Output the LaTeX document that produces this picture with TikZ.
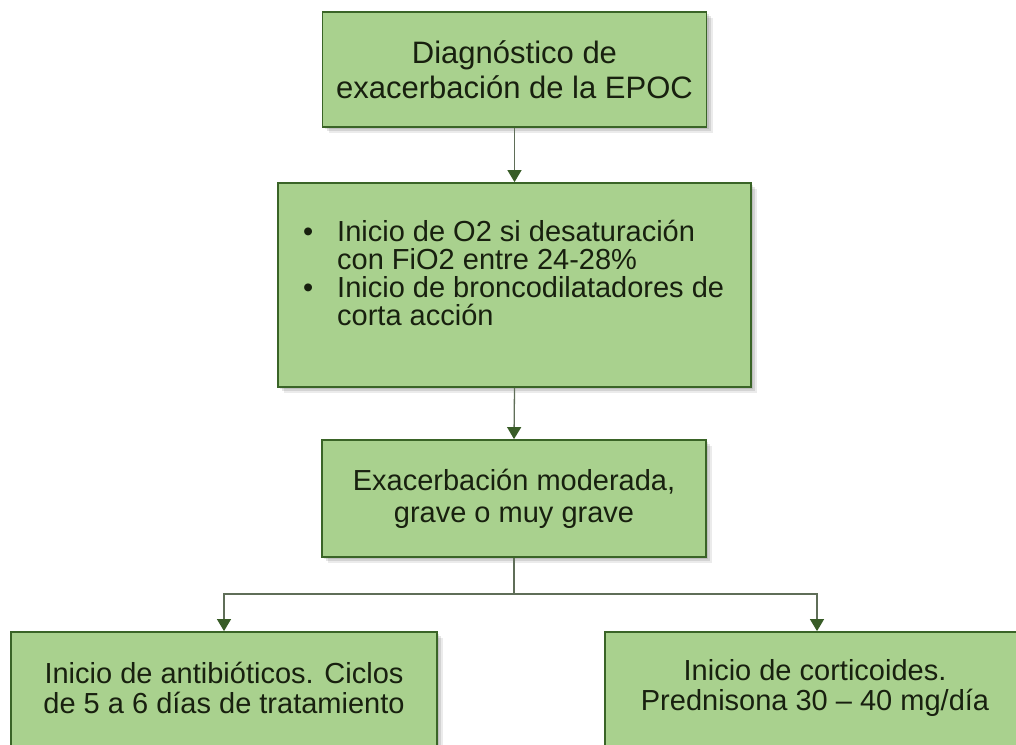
\documentclass[tikz,border=0pt]{standalone}
\usepackage{fontspec}
\setmainfont{Liberation Sans}
\usetikzlibrary{arrows.meta,shadows}
\definecolor{boxfill}{HTML}{A9D18E}
\definecolor{boxline}{HTML}{3A6427}
\definecolor{tipcol}{HTML}{385C27}
\definecolor{linecol}{HTML}{5F6E58}
\definecolor{txtcol}{HTML}{18200F}
\tikzset{
  greenbox/.style={draw=boxline, line width=1.8pt, fill=boxfill, inner sep=0pt,
    text=txtcol, align=center,
    general shadow={fill=black, opacity=0.10, shadow xshift=2pt, shadow yshift=-2pt},
    general shadow={fill=black, opacity=0.10, shadow xshift=4pt, shadow yshift=-4pt},
    general shadow={fill=black, opacity=0.08, shadow xshift=6pt, shadow yshift=-6pt}},
  boxtext/.style={inner sep=0pt, text=txtcol},
  conn/.style={draw=linecol, line width=1.3pt,
    -{Triangle[width=14pt,length=12pt,color=tipcol]}},
  plainconn/.style={draw=linecol, line width=1.3pt}
}
\begin{document}
\begin{tikzpicture}[x=1pt,y=-1pt]
\useasboundingbox (0,0) rectangle (1016,744);
\clip (0,0) rectangle (1016,744);
\node[greenbox, minimum width=384pt, minimum height=115pt,
  font=\fontsize{31}{34.5}\selectfont] (b1) at (514.5,69.5)
  {Diagnóstico de\\exacerbación de la EPOC};
\node[greenbox, minimum width=473pt, minimum height=204pt] (b2) at (514.5,285) {};
\node[boxtext, anchor=west, align=left,
  font=\fontsize{29}{28.3}\selectfont] (b2t) at (303,273)
  {\makebox[34pt][l]{\textbullet}Inicio de O2 si desaturación\\
   \hspace*{34pt}con FiO2 entre 24-28\%\\
   \makebox[34pt][l]{\textbullet}Inicio de broncodilatadores de\\
   \hspace*{34pt}corta acción};
\node[greenbox, minimum width=384pt, minimum height=117pt,
  font=\fontsize{29}{32}\selectfont] (b3) at (514,498.5)
  {Exacerbación moderada,\\grave o muy grave};
\node[greenbox, minimum width=426pt, minimum height=120pt] (b4) at (224,692) {};
\node[boxtext, align=center, font=\fontsize{29}{30}\selectfont] (b4t) at (224,688)
  {Inicio de antibióticos. Ciclos\\de 5 a 6 días de tratamiento};
\node[greenbox, minimum width=424pt, minimum height=120pt] (b5) at (817,692) {};
\node[boxtext, align=center, font=\fontsize{29}{30}\selectfont] (b5t) at (815,688)
  {Inicio de corticoides.\\Prednisona 30 – 40 mg/día};
\coordinate (split) at (514,594);
\draw[conn] (b1.south) -- (b2.north);
\draw[conn] (b2.south) -- (b3.north);
\draw[plainconn] (b3.south) -- (split);
\draw[conn] (split) -| (b4.north);
\draw[conn] (split) -| (b5.north);
\end{tikzpicture}
\end{document}
